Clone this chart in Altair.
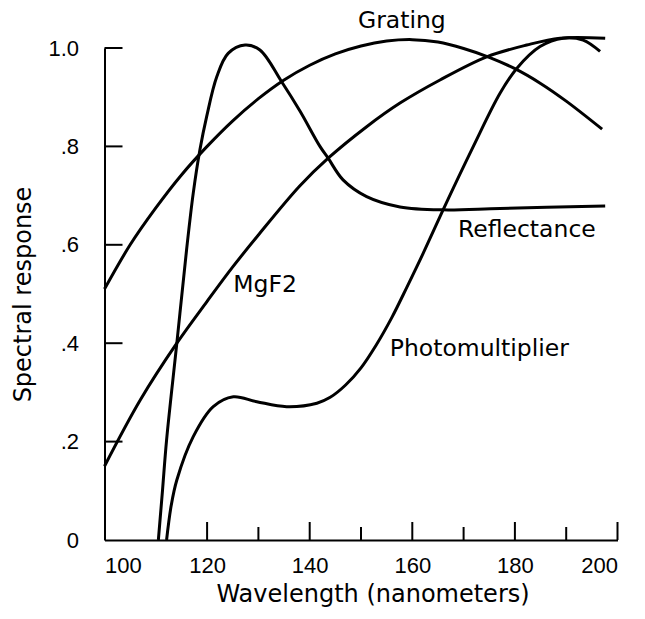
import altair as alt
import pandas as pd

# ---- data ----
grating_x = [100, 105, 110, 115, 120, 125, 130, 135, 140, 145, 150, 155, 160, 165, 170, 175, 180, 185, 190, 197]
grating_y = [0.51, 0.60, 0.675, 0.742, 0.80, 0.852, 0.897, 0.935, 0.965, 0.988, 1.004, 1.014, 1.017, 1.012, 0.999, 0.981, 0.958, 0.928, 0.892, 0.835]

refl_x = [110.5, 111.3, 112.1, 114.1, 116.0, 117.3, 118.6, 119.9, 121.9, 124.1, 127.4, 130.3, 134.5, 138.1, 142.0, 143.6, 146.5, 151.1, 157.6, 166.0, 177.1, 197.6]
refl_y = [0.0, 0.1, 0.203, 0.40, 0.59, 0.705, 0.793, 0.86, 0.942, 0.989, 1.006, 0.996, 0.932, 0.872, 0.80, 0.776, 0.732, 0.698, 0.677, 0.671, 0.674, 0.679]

mgf2_x = [100, 107, 114.1, 120, 125, 130, 138.1, 143.6, 151.1, 157.6, 165.4, 174.5, 182.3, 188.8, 197.6]
mgf2_y = [0.15, 0.285, 0.40, 0.485, 0.555, 0.62, 0.72, 0.776, 0.84, 0.888, 0.935, 0.982, 1.006, 1.02, 1.02]

pmt_x = [112.1, 113.0, 114.1, 117.3, 121.2, 125.1, 129.7, 135.5, 141.4, 144, 147, 150, 153, 156, 159, 162, 166.0, 171.9, 177.1, 180.4, 184.9, 189.4, 193.3, 196.6]
pmt_y = [0.0, 0.07, 0.122, 0.21, 0.271, 0.291, 0.281, 0.271, 0.278, 0.29, 0.315, 0.35, 0.397, 0.452, 0.515, 0.58, 0.671, 0.80, 0.908, 0.959, 1.003, 1.02, 1.016, 0.993]

label_text = ["Grating", "Reflectance", "MgF2", "Photomultiplier"]
label_x = [149.4, 168.9, 125.1, 155.6]
label_y = [1.040, 0.6165, 0.505, 0.375]

xtick_labels = [100, 120, 140, 160, 180, 200]
xtick_major = [120, 140, 160, 180, 200]
xtick_minor = [130, 150, 170, 190]
ytick_values = [0, 0.2, 0.4, 0.6, 0.8, 1.0]
ytick_labels = ["0", ".2", ".4", ".6", ".8", "1.0"]

# ---- build tables ----
rows = []
for name, xs, ys in [("Grating", grating_x, grating_y), ("Reflectance", refl_x, refl_y),
                     ("MgF2", mgf2_x, mgf2_y), ("Photomultiplier", pmt_x, pmt_y)]:
    for i, (a, b) in enumerate(zip(xs, ys)):
        rows.append({"series": name, "x": a, "y": b, "order": i})
curves = pd.DataFrame(rows)
labels = pd.DataFrame({"label": label_text, "x": label_x, "y": label_y})
xt_major = pd.DataFrame({"x": xtick_major})
xt_minor = pd.DataFrame({"x": xtick_minor})
yt = pd.DataFrame({"y": [v for v in ytick_values if v > 0]})

W, H = 513, 492
TICK_FONT = "Liberation Sans"
TEXT_FONT = "DejaVu Sans"

label_expr = "''"
for v, t in zip(ytick_values, ytick_labels):
    label_expr = f"abs(datum.value - {v}) < 1e-6 ? '{t}' : ({label_expr})"

xscale = alt.Scale(domain=[100, 200], nice=False, zero=False)
yscale = alt.Scale(domain=[0, 1.0], nice=False)

xaxis = alt.Axis(values=xtick_labels, ticks=False, tickSize=0, grid=False,
                 domainColor="black", domainWidth=2,
                 labelFont=TICK_FONT, labelFontSize=22, labelColor="black", labelPadding=15,
                 title="Wavelength (nanometers)", titleFont=TEXT_FONT, titleFontSize=24,
                 titleFontWeight="normal", titleColor="black",
                 titleX=268, titleY=61, titleAlign="center", titleBaseline="alphabetic")
yaxis = alt.Axis(values=ytick_values, labelExpr=label_expr, ticks=False, tickSize=0, grid=False,
                 domainColor="black", domainWidth=2,
                 labelFont=TICK_FONT, labelFontSize=22, labelColor="black", labelPadding=26,
                 title="Spectral response", titleFont=TEXT_FONT, titleFontSize=24,
                 titleFontWeight="normal", titleColor="black", titleAngle=270,
                 titleX=-74.5, titleY=246, titleAlign="center", titleBaseline="alphabetic")

lines = alt.Chart(curves).mark_line(color="black", strokeWidth=3, interpolate="catmull-rom").encode(
    x=alt.X("x:Q", scale=xscale, axis=xaxis),
    y=alt.Y("y:Q", scale=yscale, axis=yaxis),
    detail="series:N",
    order="order:Q",
)

texts = alt.Chart(labels).mark_text(font=TEXT_FONT, fontSize=23.5, color="black",
                                    align="left", baseline="alphabetic").encode(
    x=alt.X("x:Q", scale=xscale),
    y=alt.Y("y:Q", scale=yscale),
    text="label:N",
)

xmaj = alt.Chart(xt_major).mark_rule(color="black", strokeWidth=2).encode(
    x=alt.X("x:Q", scale=xscale), y=alt.value(H), y2=alt.value(H - 18))
xmin = alt.Chart(xt_minor).mark_rule(color="black", strokeWidth=2).encode(
    x=alt.X("x:Q", scale=xscale), y=alt.value(H), y2=alt.value(H - 13))
yticks = alt.Chart(yt).mark_rule(color="black", strokeWidth=2).encode(
    y=alt.Y("y:Q", scale=yscale), x=alt.value(0), x2=alt.value(18))

chart = alt.layer(lines, xmaj, xmin, yticks, texts).properties(
    width=W, height=H,
    autosize=alt.AutoSizeParams(type="none"),
    padding={"left": 104.5, "top": 48, "right": 27.5, "bottom": 79},
    background="white",
).configure_view(stroke=None)

chart.save("out.html", embed_options={"renderer": "svg", "actions": False})
